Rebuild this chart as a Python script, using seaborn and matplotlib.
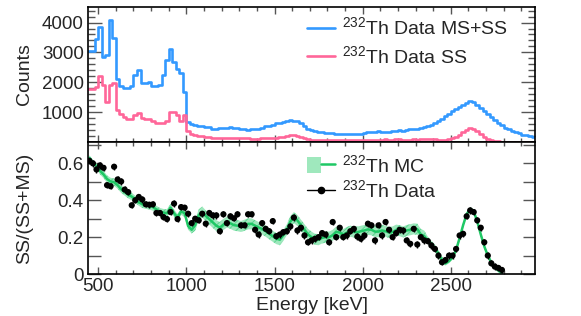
import matplotlib
matplotlib.use('Agg')
import matplotlib.pyplot as plt
import seaborn as sns
import numpy as np
import pandas as pd
from matplotlib.lines import Line2D
from matplotlib.patches import Patch
from matplotlib.ticker import MultipleLocator
from matplotlib.legend_handler import HandlerTuple

sns.set_theme(style='ticks')
plt.rcParams['font.family'] = ['Liberation Sans', 'DejaVu Sans']
plt.rcParams['mathtext.fontset'] = 'custom'
plt.rcParams['mathtext.rm'] = 'Liberation Sans'
plt.rcParams['mathtext.it'] = 'Liberation Sans:italic'
plt.rcParams['mathtext.bf'] = 'Liberation Sans:bold'
plt.rcParams['hatch.linewidth'] = 0.7

# top panel: 20 keV bins from 440 to 2980 keV
hist_edges = np.arange(440, 2981, 20)
ms_ss_counts = [
    3050, 3050, 3460, 3860, 2850, 2900, 4080, 3480, 2120, 1870,
    1800, 1820, 1880, 2240, 2400, 1960, 1980, 2010, 1870, 1880,
    1920, 2240, 2740, 3100, 2680, 2460, 2300, 1680, 680, 590,
    560, 540, 530, 500, 490, 430, 450, 470, 460, 480,
    490, 470, 460, 440, 420, 410, 420, 420, 430, 460,
    520, 540, 560, 620, 630, 660, 720, 730, 720, 700,
    640, 520, 440, 390, 360, 340, 330, 300, 290, 290,
    280, 270, 270, 270, 270, 270, 280, 280, 300, 330,
    340, 350, 360, 350, 340, 350, 360, 370, 400, 380,
    410, 430, 440, 440, 470, 500, 540, 580, 630, 700,
    780, 860, 940, 1030, 1110, 1180, 1250, 1320, 1370, 1330,
    1250, 1150, 1040, 940, 830, 730, 640, 560, 480, 420,
    370, 320, 290, 250, 220, 190, 160,
]
ss_counts = [
    1770, 1780, 1850, 2200, 1920, 1340, 1900, 1970, 1060, 950,
    830, 780, 760, 900, 970, 790, 780, 780, 700, 650,
    620, 640, 720, 1000, 1000, 890, 720, 890, 380, 280,
    240, 210, 190, 170, 160, 150, 140, 140, 150, 140,
    150, 140, 130, 120, 120, 120, 110, 110, 110, 120,
    130, 140, 140, 150, 160, 170, 200, 230, 220, 190,
    160, 120, 90, 80, 75, 70, 70, 65, 60, 70,
    60, 60, 65, 60, 65, 65, 60, 60, 70, 80,
    80, 75, 80, 80, 85, 80, 80, 85, 90, 80,
    75, 80, 85, 80, 85, 90, 85, 90, 90, 80,
    70, 80, 100, 130, 180, 250, 320, 400, 460, 440,
    360, 260, 170, 100, 55, 35, 20, 15, 10, 8,
    8, 6, 6, 5, 5, 5, 5,
]

# bottom panel: SS fraction, 20 keV bins 450..2790 keV
ratio_energy = np.arange(450, 2791, 20)
data_ratio = [
    0.614, 0.600, 0.567, 0.589, 0.576, 0.482, 0.476, 0.582, 0.513, 0.502,
    0.458, 0.444, 0.373, 0.400, 0.418, 0.404, 0.378, 0.376, 0.378, 0.331,
    0.331, 0.309, 0.298, 0.336, 0.382, 0.298, 0.363, 0.360, 0.327, 0.276,
    0.300, 0.291, 0.327, 0.273, 0.331, 0.318, 0.318, 0.232, 0.324, 0.276,
    0.313, 0.302, 0.324, 0.264, 0.264, 0.324, 0.324, 0.240, 0.214, 0.276,
    0.245, 0.232, 0.287, 0.205, 0.214, 0.227, 0.232, 0.258, 0.306, 0.236,
    0.251, 0.209, 0.172, 0.182, 0.191, 0.200, 0.222, 0.214, 0.172, 0.282,
    0.200, 0.251, 0.200, 0.209, 0.232, 0.245, 0.203, 0.191, 0.209, 0.273,
    0.264, 0.182, 0.264, 0.209, 0.282, 0.240, 0.200, 0.222, 0.240, 0.236,
    0.182, 0.164, 0.245, 0.160, 0.200, 0.182, 0.178, 0.155, 0.136, 0.100,
    0.064, 0.076, 0.100, 0.100, 0.136, 0.209, 0.218, 0.313, 0.345, 0.336,
    0.291, 0.251, 0.172, 0.100, 0.058, 0.040, 0.033, 0.022,
]
data_err = 0.017
mc_ratio = [
    0.630, 0.603, 0.585, 0.560, 0.540, 0.515, 0.502, 0.498, 0.482, 0.460,
    0.445, 0.430, 0.420, 0.405, 0.390, 0.378, 0.373, 0.370, 0.363, 0.350,
    0.338, 0.333, 0.330, 0.360, 0.330, 0.305, 0.340, 0.330, 0.260, 0.240,
    0.265, 0.320, 0.336, 0.315, 0.298, 0.280, 0.262, 0.252, 0.268, 0.282,
    0.275, 0.265, 0.262, 0.258, 0.265, 0.272, 0.272, 0.262, 0.252, 0.244,
    0.232, 0.218, 0.205, 0.192, 0.186, 0.210, 0.240, 0.285, 0.306, 0.290,
    0.265, 0.240, 0.215, 0.200, 0.188, 0.186, 0.196, 0.200, 0.200, 0.210,
    0.228, 0.225, 0.214, 0.225, 0.232, 0.228, 0.227, 0.232, 0.236, 0.242,
    0.240, 0.230, 0.230, 0.236, 0.232, 0.225, 0.228, 0.238, 0.235, 0.228,
    0.236, 0.240, 0.245, 0.243, 0.215, 0.205, 0.182, 0.160, 0.140, 0.110,
    0.075, 0.058, 0.070, 0.090, 0.130, 0.195, 0.265, 0.325, 0.352, 0.340,
    0.285, 0.215, 0.150, 0.100, 0.062, 0.038, 0.020, 0.005,
]
# MC band half width, read per energy region
mc_err = [0.015] * 3 + [0.02] * 27 + [0.03] * 66 + [0.02] * 5 + [0.012] * 17

BLUE = '#3399ff'
PINK = '#ff6699'
GREEN = '#1fc865'
BAND = '#9fe8bd'
TICK = '#555555'
FS = 14

spectra = pd.DataFrame({'energy': hist_edges[:-1] + 10,
                        'ms_ss': ms_ss_counts, 'ss': ss_counts})
edges = [float(e) for e in hist_edges]

fig = plt.figure(figsize=(5.81, 3.16), dpi=100)
ax1 = fig.add_axes([0.1515, 0.5506, 0.7694, 0.4272])
ax2 = fig.add_axes([0.1515, 0.1329, 0.7694, 0.4177])

sns.histplot(data=spectra, x='energy', weights='ms_ss', bins=edges, element='step',
             fill=False, color=BLUE, linewidth=1.9, ax=ax1)
sns.histplot(data=spectra, x='energy', weights='ss', bins=edges, element='step',
             fill=False, color=PINK, linewidth=1.9, ax=ax1)

mc = np.array(mc_ratio)
err = np.array(mc_err)
ax2.fill_between(ratio_energy, mc - err, mc + err, facecolor=BAND,
                 edgecolor='#5ad690', hatch='////', linewidth=0)
sns.lineplot(x=ratio_energy, y=mc_ratio, color=GREEN, linewidth=1.8, ax=ax2)
ax2.errorbar(ratio_energy, data_ratio, yerr=data_err, fmt='none',
             ecolor='black', elinewidth=1)
sns.scatterplot(x=ratio_energy, y=data_ratio, color='black', s=20,
                edgecolor='none', ax=ax2, zorder=5)

for ax in (ax1, ax2):
    ax.set_xlim(442, 2978)
    ax.xaxis.set_major_locator(MultipleLocator(500))
    ax.xaxis.set_minor_locator(MultipleLocator(100))
    ax.tick_params(which='both', direction='in', top=True, right=True,
                   color=TICK, width=1, labelsize=13.5, pad=3)
    ax.tick_params(axis='x', which='major', length=5)
    ax.tick_params(axis='x', which='minor', length=3)
    for s in ax.spines.values():
        s.set_linewidth(1.2)
        s.set_color('black')

ax1.set_ylim(0, 4520)
ax1.yaxis.set_major_locator(MultipleLocator(1000))
ax1.yaxis.set_minor_locator(MultipleLocator(200))
ax1.tick_params(axis='y', which='major', length=10)
ax1.tick_params(axis='y', which='minor', length=5)
ax1.set_yticks([1000, 2000, 3000, 4000])
ax1.tick_params(axis='x', labelbottom=False)
ax1.set_xlabel('')
ax1.set_ylabel('Counts', fontsize=FS)

ax2.set_ylim(0, 0.716)
ax2.yaxis.set_major_locator(MultipleLocator(0.2))
ax2.yaxis.set_minor_locator(MultipleLocator(0.1))
ax2.yaxis.set_major_formatter(plt.FuncFormatter(lambda v, p: '0' if v == 0 else f'{v:.1f}'))
ax2.tick_params(axis='y', which='both', length=9)
ax2.set_xlabel('Energy [keV]', fontsize=FS, labelpad=1)
ax2.set_ylabel('SS/(SS+MS)', fontsize=FS)

ax1.yaxis.set_label_coords(-0.123, 0.5)
ax2.yaxis.set_label_coords(-0.123, 0.5)

h_top = [Line2D([], [], color=BLUE, lw=1.9), Line2D([], [], color=PINK, lw=1.9)]
ax1.legend(h_top, [r'$^{232}$Th Data MS+SS', r'$^{232}$Th Data SS'],
           loc='upper left', bbox_to_anchor=(0.49, 0.93), frameon=False,
           fontsize=FS, handlelength=1.45, handletextpad=0.35,
           labelspacing=0.35, borderpad=0, borderaxespad=0)

mc_handle = (Patch(facecolor=BAND, edgecolor='none'), Line2D([], [], color=GREEN, lw=1.8))
data_handle = Line2D([], [], color='black', lw=1, marker='o', ms=4.5)
ax2.legend([mc_handle, data_handle], [r'$^{232}$Th MC', r'$^{232}$Th Data'],
           handler_map={tuple: HandlerTuple(ndivide=None, pad=0)},
           loc='upper left', bbox_to_anchor=(0.49, 0.91), frameon=False,
           fontsize=FS, handlelength=1.45, handletextpad=0.35, handleheight=0.95,
           labelspacing=0.2, borderpad=0, borderaxespad=0)

fig.savefig('out.png', dpi=100)
